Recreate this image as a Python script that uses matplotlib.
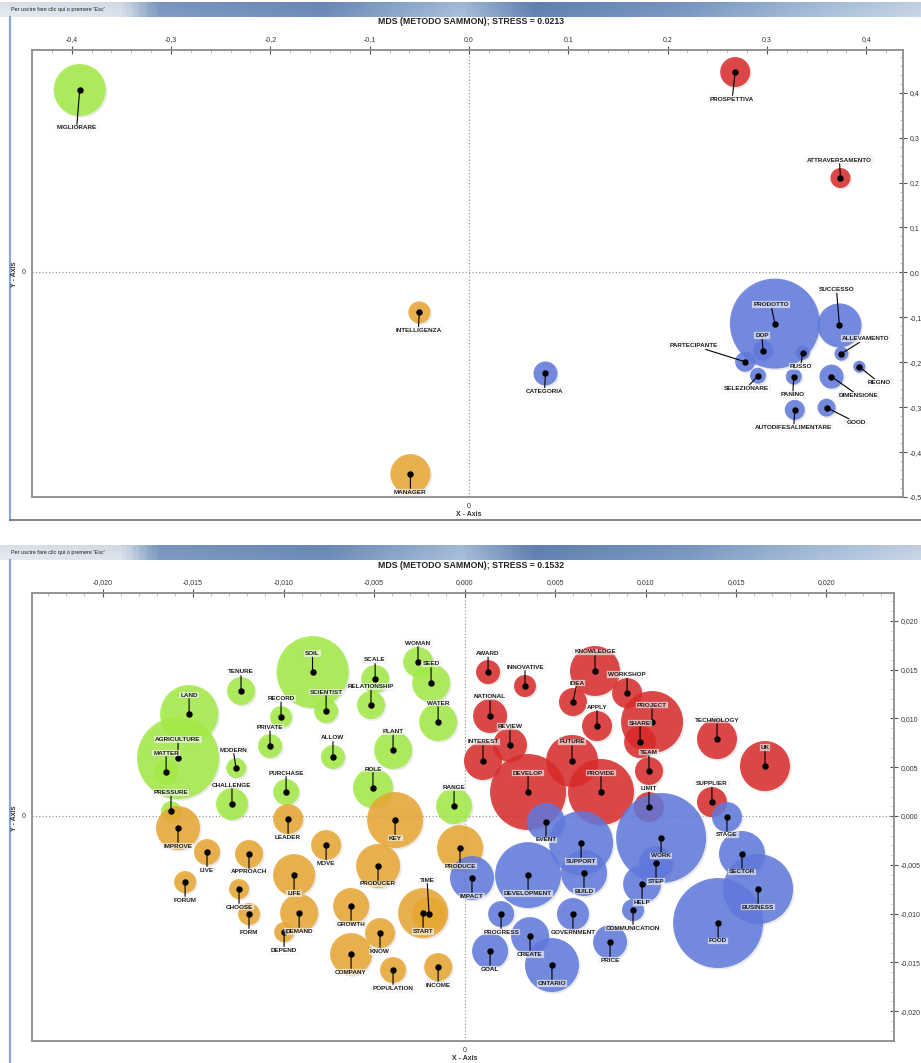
import numpy as np
import matplotlib
matplotlib.use("Agg")
import matplotlib.pyplot as plt
import matplotlib.patheffects as pe
from matplotlib.ticker import FuncFormatter, MultipleLocator
from matplotlib.lines import Line2D
from matplotlib.colors import LinearSegmentedColormap

# ---------------- MDS 1 (stress 0.0213) ----------------
top_words = ["MIGLIORARE", "PROSPETTIVA", "ATTRAVERSAMENTO", "INTELLIGENZA", "MANAGER",
             "CATEGORIA", "PRODOTTO", "DOP", "PARTECIPANTE", "SELEZIONARE", "RUSSO",
             "PANINO", "AUTODIFESALIMENTARE", "SUCCESSO", "ALLEVAMENTO", "REGNO",
             "DIMENSIONE", "GOOD"]
top_x = [-0.392, 0.268, 0.374, -0.050, -0.059, 0.077, 0.308, 0.296, 0.278, 0.291,
         0.336, 0.327, 0.328, 0.373, 0.375, 0.393, 0.365, 0.360]
top_y = [0.406, 0.446, 0.210, -0.089, -0.449, -0.225, -0.114, -0.174, -0.199, -0.230,
         -0.179, -0.232, -0.306, -0.118, -0.181, -0.210, -0.232, -0.301]
top_peso = [26, 15, 10, 11, 20, 12, 45, 10, 10, 8, 7, 8, 10, 22, 7, 6, 12, 9]
top_group = ["g", "r", "r", "o", "o"] + ["b"] * 13

# ---------------- MDS 2 (stress 0.1532) ----------------
bot_words = [
    # green
    "SOIL", "TENURE", "LAND", "RECORD", "PRIVATE", "AGRICULTURE", "MATTER", "MODERN",
    "PURCHASE", "CHALLENGE", "PRESSURE", "WOMAN", "SEED", "SCALE", "RELATIONSHIP",
    "SCIENTIST", "WATER", "PLANT", "ALLOW", "ROLE", "RANGE",
    # orange
    "IMPROVE", "LIVE", "APPROACH", "FORUM", "CHOOSE", "FORM", "LIFE", "DEMAND", "DEPEND",
    "LEADER", "KEY", "MOVE", "PRODUCER", "PRODUCE", "START", "TIME", "GROWTH", "KNOW",
    "COMPANY", "POPULATION", "INCOME",
    # red
    "AWARD", "INNOVATIVE", "NATIONAL", "REVIEW", "INTEREST", "DEVELOP", "FUTURE",
    "PROVIDE", "IDEA", "APPLY", "KNOWLEDGE", "WORKSHOP", "PROJECT", "SHARE", "TEAM",
    "TECHNOLOGY", "UK", "SUPPLIER", "LIMIT",
    # blue
    "EVENT", "SUPPORT", "DEVELOPMENT", "BUILD", "IMPACT", "PROGRESS", "GOVERNMENT",
    "CREATE", "GOAL", "ONTARIO", "PRICE", "COMMUNICATION", "HELP", "STEP", "WORK",
    "STAGE", "SECTOR", "BUSINESS", "FOOD"]
bot_x = [
    -0.0084, -0.01235, -0.01522, -0.01014, -0.01075, -0.01583, -0.01649, -0.01262,
    -0.00986, -0.01285, -0.01622, -0.00257, -0.00185, -0.00494, -0.00517,
    -0.00765, -0.00146, -0.00395, -0.00727, -0.00506, -0.00058,
    -0.01583, -0.01423, -0.01191, -0.01544, -0.01246, -0.01191, -0.00942, -0.00914, -0.00997,
    -0.00975, -0.00384, -0.00765, -0.00478, -0.00025, -0.00229, -0.00196, -0.00627, -0.00467,
    -0.00627, -0.00395, -0.00146,
    0.00130, 0.00334, 0.00141, 0.00251, 0.00102, 0.00351, 0.00594,
    0.00754, 0.00599, 0.00732, 0.00721, 0.00898, 0.01036, 0.00970, 0.01019,
    0.01395, 0.01660, 0.01367, 0.01019,
    0.00450, 0.00644, 0.00351, 0.00660, 0.00041, 0.00202, 0.00599,
    0.00362, 0.00141, 0.00483, 0.00804, 0.00931, 0.00981, 0.01058, 0.01086,
    0.01450, 0.01533, 0.01622, 0.01401]
bot_y = [
    0.01475, 0.01281, 0.01045, 0.01014, 0.00717, 0.00594, 0.00451, 0.00492,
    0.00246, 0.00123, 0.00051, 0.01578, 0.01363, 0.01404, 0.01137,
    0.01076, 0.00963, 0.00676, 0.00605, 0.00287, 0.00102,
    -0.00123, -0.00369, -0.00389, -0.00676, -0.00748, -0.01004, -0.00605, -0.00994, -0.01189,
    -0.00031, -0.00041, -0.00297, -0.00512, -0.00328, -0.00994, -0.01004, -0.00922, -0.01199,
    -0.01414, -0.01578, -0.01547,
    0.01475, 0.01332, 0.01025, 0.00727, 0.00564, 0.00246, 0.00564,
    0.00246, 0.01168, 0.00922, 0.01486, 0.01260, 0.00963, 0.00758, 0.00461,
    0.00789, 0.00512, 0.00143, 0.00092,
    -0.00061, -0.00277, -0.00605, -0.00584, -0.00635, -0.01004, -0.01004,
    -0.01230, -0.01383, -0.01527, -0.01291, -0.00963, -0.00697, -0.00482, -0.00225,
    -0.00010, -0.00389, -0.00748, -0.01096]
bot_peso = [
    36, 14, 29, 11, 12, 41, 12, 10, 13, 16, 10, 15, 19, 14, 14, 12, 19, 19, 12, 20, 18,
    22, 13, 14, 11, 10, 11, 21, 19, 10, 15, 28, 15, 22, 23, 25, 17, 18, 15, 21, 13, 14,
    12, 11, 17, 17, 19, 38, 26, 33, 14, 15, 25, 15, 31, 16, 14, 20, 25, 15, 15,
    19, 32, 33, 23, 22, 13, 16, 19, 18, 27, 17, 11, 19, 17, 45, 15, 23, 35, 45]
bot_group = ["g"] * 21 + ["o"] * 21 + ["r"] * 19 + ["b"] * 19

colori = {"g": "#a2ea45", "o": "#e8a630", "r": "#d92a2a", "b": "#5f78dc"}

# label offsets in pixels (dx, dy downwards)
top_off = {"MIGLIORARE": (-3, 38), "PROSPETTIVA": (-3, 27), "ATTRAVERSAMENTO": (-1, -18),
           "INTELLIGENZA": (-1, 18), "MANAGER": (0, 18), "CATEGORIA": (-1, 18),
           "PRODOTTO": (-4, -19), "DOP": (-1, -15), "PARTECIPANTE": (-51, -16),
           "SELEZIONARE": (-12, 13), "RUSSO": (-2, 14), "PANINO": (-1, 18),
           "AUTODIFESALIMENTARE": (-1, 18), "SUCCESSO": (-3, -36), "ALLEVAMENTO": (24, -15),
           "REGNO": (20, 16), "DIMENSIONE": (27, 19), "GOOD": (30, 15)}
bot_default = {"g": (0, -19), "r": (0, -19), "o": (0, 18), "b": (0, 18)}
bot_exc = {"TIME": (-2, -34), "IDEA": (4, -19), "MODERN": (-3, -18), "PROJECT": (0, -17)}

W, H = 921, 1063
fig = plt.figure(figsize=(W / 100, H / 100), dpi=100)
FONT = "Liberation Sans"


def fx(px):
    return px / W


def fy(py):
    return 1 - py / H


# window chrome (screenshot look)
bar_cmap = LinearSegmentedColormap.from_list("bar", [
    (0.0, "#e4ebf3"), (0.13, "#dbe4ee"), (0.17, "#7e9cc4"), (0.35, "#6d8dba"),
    (0.5, "#a9c1de"), (0.58, "#6384b4"), (0.75, "#7d9cc6"), (0.88, "#a7bfdc"), (1.0, "#c9d7e8")])


def window(top_px, bottom_px):
    bar = fig.add_axes([0, fy(top_px + 15), 1, 15 / H])
    grad = np.linspace(0, 1, 400)[None, :] * np.ones((20, 1))
    shade = np.linspace(0.85, 1.0, 20)[:, None]
    img = bar_cmap(grad)[:, :, :3] * shade[:, :, None] ** 0.3
    bar.imshow(img, aspect="auto", extent=[0, 1, 0, 1])
    bar.axis("off")
    bar.text(0.012, 0.5, "Per uscire fare clic qui o premere 'Esc'", fontsize=4,
             family=FONT, va="center", color="#222")
    fig.add_artist(Line2D([fx(10), fx(10)], [fy(top_px + 15), fy(bottom_px)],
                          color="#8aa7d4", lw=1.6))
    fig.add_artist(Line2D([fx(10), 1], [fy(bottom_px), fy(bottom_px)],
                          color="#6f6f6f", lw=1.2))


window(2, 520)
window(545, 1070)


def comma(dec):
    return FuncFormatter(lambda v, p: f"{v:.{dec}f}".replace(".", ",").replace("-0,000", "0,000"))


def bubble_map(rect, words, xs, ys, peso, groups, offsets, xlim, ylim, major, minor, dec,
               title, title_y, zero_px):
    ax = fig.add_axes(rect)
    ax.set_xlim(*xlim)
    ax.set_ylim(*ylim)
    ax.axhline(0, color="#8a8a8a", ls=(0, (1, 2)), lw=0.8, zorder=1)
    ax.axvline(0, color="#8a8a8a", ls=(0, (1, 2)), lw=0.8, zorder=1)

    sizes = [(1.44 * w) ** 2 for w in peso]
    cols = [colori[g] for g in groups]
    sc = ax.scatter(xs, ys, s=sizes, c=cols, alpha=0.85, edgecolors="none", zorder=2)
    sc.set_path_effects([pe.SimplePatchShadow(offset=(1.2, -1.2), shadow_rgbFace="#888888",
                                              alpha=0.18), pe.Normal()])
    ax.scatter(xs, ys, s=13, c="black", zorder=4)

    for w, x, y, off in zip(words, xs, ys, offsets):
        ax.annotate(w, xy=(x, y), xytext=(off[0] * 0.72, -off[1] * 0.72),
                    textcoords="offset points", ha="center", va="center",
                    fontsize=4.6, family=FONT, fontweight="bold", color="#1e1e1e",
                    bbox=dict(boxstyle="square,pad=0.15", fc="white", ec="#c8c8c8",
                              lw=0.3, alpha=0.6),
                    arrowprops=dict(arrowstyle="-", color="black", lw=0.8,
                                    shrinkA=0, shrinkB=0),
                    zorder=5)

    ax.xaxis.tick_top()
    ax.yaxis.tick_right()
    ax.xaxis.set_major_locator(MultipleLocator(major))
    ax.yaxis.set_major_locator(MultipleLocator(major))
    ax.xaxis.set_minor_locator(MultipleLocator(minor))
    ax.yaxis.set_minor_locator(MultipleLocator(minor))
    ax.xaxis.set_major_formatter(comma(dec))
    ax.yaxis.set_major_formatter(comma(dec))
    ax.tick_params(which="major", direction="inout", length=6, width=0.8, color="#555",
                   labelsize=5, labelcolor="#333", pad=2)
    ax.tick_params(which="minor", direction="in", length=2.5, width=0.5, color="#aaa")
    for lab in ax.get_xticklabels() + ax.get_yticklabels():
        lab.set_family(FONT)
    for sp in ax.spines.values():
        sp.set_color("#8c8c8c")
        sp.set_linewidth(1.3)

    fig.text(0.512, fy(title_y), title, ha="center", va="center", fontsize=6.3,
             family=FONT, fontweight="bold", color="#222")
    # crosshair zero labels and axis names
    x0, y0 = zero_px
    fig.text(fx(24), fy(y0), "0", ha="center", va="center", fontsize=5, family=FONT,
             color="#333")
    fig.text(fx(14), fy(y0 + 2), "Y - Axis", ha="center", va="center", rotation=90,
             fontsize=5, family=FONT, fontweight="bold", color="#333")
    bottom_px = (1 - rect[1]) * H
    fig.text(fx(x0), fy(bottom_px + 9), "0", ha="center", va="center", fontsize=5,
             family=FONT, color="#333")
    fig.text(fx(x0), fy(bottom_px + 18), "X - Axis", ha="center", va="center",
             fontsize=5, family=FONT, fontweight="bold", color="#333")
    return ax


top_offsets = [top_off[w] for w in top_words]
bubble_map([fx(32), fy(497), (903 - 32) / W, (497 - 50) / H],
           top_words, top_x, top_y, top_peso, top_group, top_offsets,
           (-0.44, 0.437), (-0.50, 0.495), 0.1, 0.02, 1,
           "MDS (METODO SAMMON); STRESS = 0.0213", 22, (469, 272))

bot_offsets = [bot_exc.get(w, bot_default[g]) for w, g in zip(bot_words, bot_group)]
bubble_map([fx(32), fy(1041), (894 - 32) / W, (1041 - 593) / H],
           bot_words, bot_x, bot_y, bot_peso, bot_group, bot_offsets,
           (-0.0239, 0.02373), (-0.02305, 0.02285), 0.005, 0.001, 3,
           "MDS (METODO SAMMON); STRESS = 0.1532", 566, (464.5, 816))

fig.savefig("out.png", dpi=100, facecolor="white")
